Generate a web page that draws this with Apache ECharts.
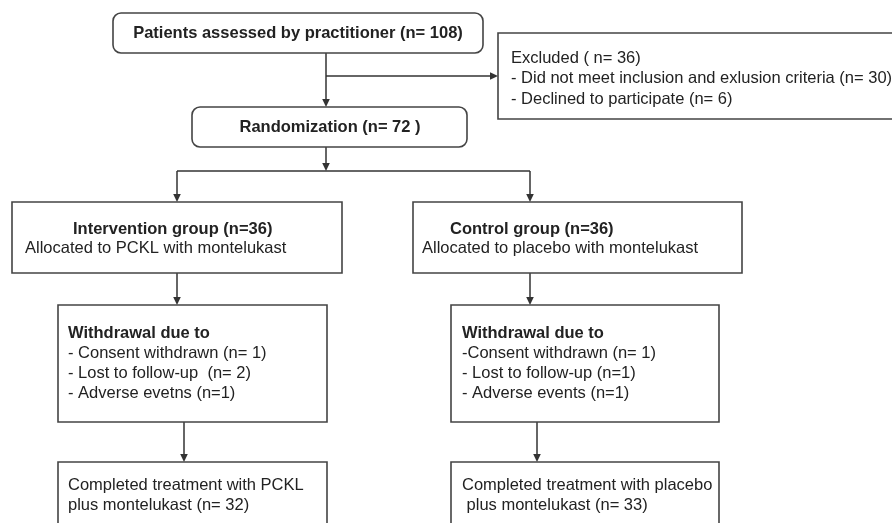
<!DOCTYPE html>
<html><head><meta charset="utf-8">
<script src="https://cdn.jsdelivr.net/npm/echarts@6/dist/echarts.min.js"></script>
<style>html,body{margin:0;padding:0;background:#fff}#c{width:892px;height:523px}</style>
</head><body><div id="c"></div>
<script>
// ---- content (text of each box) ----
const assessedLines = ['Patients assessed by practitioner (n= 108)'];
const excludedLines = ['Excluded ( n= 36)', '- Did not meet inclusion and exlusion criteria (n= 30)', '- Declined to participate (n= 6)'];
const randomizedLines = ['Randomization (n= 72 )'];
const interventionLines = ['Intervention group (n=36)', 'Allocated to PCKL with montelukast'];
const controlLines = ['Control group (n=36)', 'Allocated to placebo with montelukast'];
const interventionWithdrawalLines = ['Withdrawal due to', '- Consent withdrawn (n= 1)', '- Lost to follow-up  (n= 2)', '- Adverse evetns (n=1)'];
const controlWithdrawalLines = ['Withdrawal due to', '-Consent withdrawn (n= 1)', '- Lost to follow-up (n=1)', '- Adverse events (n=1)'];
const interventionCompletedLines = ['Completed treatment with PCKL', 'plus montelukast (n= 32)'];
const controlCompletedLines = ['Completed treatment with placebo', ' plus montelukast (n= 33)'];
const boldFirstLine = [true, false, true, true, true, true, true, false, false];

const boxLines = [assessedLines, excludedLines, randomizedLines, interventionLines, controlLines,
  interventionWithdrawalLines, controlWithdrawalLines, interventionCompletedLines, controlCompletedLines];

// ---- layout (diagram coordinates, mapped by hidden axes) ----
const boxRects = [
  [113, 13, 483, 53], [498, 33, 897, 119], [192, 107, 467, 147],
  [12, 202, 342, 273], [413, 202, 742, 273],
  [58, 305, 327, 422], [451, 305, 719, 422],
  [58, 462, 327, 530], [451, 462, 719, 530]
];
const boxRounded = [true, false, true, false, false, false, false, false, false];
const textAlign = ['center', 'left', 'center', 'left', 'left', 'left', 'left', 'left', 'left'];
const textX = [[298], [511, 511, 511], [330], [73, 25], [450, 422], [68, 68, 68, 68], [462, 462, 462, 462], [68, 68], [462, 462]];
const textY0 = [33, 58, 127, 229, 229, 333, 333, 485, 485];
const lineGap = [20, 20.5, 20, 19.5, 19.5, 20, 20, 20, 20];

const connectors = [
  [326, 53, 326, 107, 1], [326, 76, 498, 76, 1], [326, 147, 326, 171, 1],
  [177, 171, 530, 171, 0], [177, 171, 177, 202, 1], [530, 171, 530, 202, 1],
  [177, 273, 177, 305, 1], [530, 273, 530, 305, 1],
  [184, 422, 184, 462, 1], [537, 422, 537, 462, 1]
];

const FONT = "'Liberation Sans', Arial, sans-serif";
const INK = '#222';
const LINE = '#333';

const chart = echarts.init(document.getElementById('c'), null, {renderer: 'canvas'});
chart.setOption({
  animation: false,
  backgroundColor: '#fff',
  grid: {left: 0, right: 0, top: 0, bottom: 0, containLabel: false},
  xAxis: {type: 'value', min: 0, max: 892, show: false},
  yAxis: {type: 'value', min: 0, max: 523, inverse: true, show: false},
  series: [
    {
      type: 'custom', clip: false, silent: true,
      data: connectors,
      renderItem: function (params, api) {
        const p0 = api.coord([api.value(0), api.value(1)]);
        const p1 = api.coord([api.value(2), api.value(3)]);
        const arrow = api.value(4);
        const dx = p1[0] - p0[0], dy = p1[1] - p0[1];
        const len = Math.sqrt(dx * dx + dy * dy) || 1;
        const ux = dx / len, uy = dy / len;
        const AL = 8, AW = 3.8;
        const end = arrow ? [p1[0] - ux * AL, p1[1] - uy * AL] : p1;
        const children = [{
          type: 'line',
          shape: {x1: p0[0], y1: p0[1], x2: end[0], y2: end[1]},
          style: {stroke: LINE, lineWidth: 1.5}
        }];
        if (arrow) {
          children.push({
            type: 'polygon',
            shape: {points: [p1, [end[0] - uy * AW, end[1] + ux * AW], [end[0] + uy * AW, end[1] - ux * AW]]},
            style: {fill: LINE}
          });
        }
        return {type: 'group', children: children};
      }
    },
    {
      type: 'custom', clip: false, silent: true,
      data: boxRects.map(function (r, i) { return r.concat([i]); }),
      renderItem: function (params, api) {
        const i = api.value(4);
        const a = api.coord([api.value(0), api.value(1)]);
        const b = api.coord([api.value(2), api.value(3)]);
        const children = [{
          type: 'rect',
          shape: {x: a[0], y: a[1], width: b[0] - a[0], height: b[1] - a[1], r: boxRounded[i] ? 8 : 0},
          style: {fill: '#fff', stroke: '#444', lineWidth: 1.6}
        }];
        boxLines[i].forEach(function (t, k) {
          const p = api.coord([textX[i][k], textY0[i] + k * lineGap[i]]);
          children.push({
            type: 'text',
            style: {
              x: p[0], y: p[1], text: t,
              fill: INK, fontFamily: FONT, fontSize: 16.5,
              fontWeight: (k === 0 && boldFirstLine[i]) ? 'bold' : 'normal',
              align: textAlign[i], verticalAlign: 'middle'
            }
          });
        });
        return {type: 'group', children: children};
      }
    }
  ]
});
</script>
</body></html>
